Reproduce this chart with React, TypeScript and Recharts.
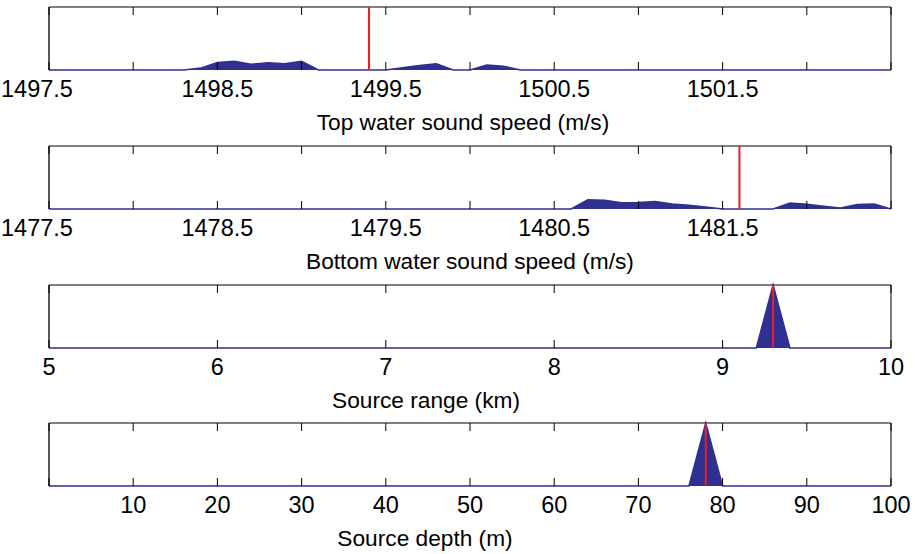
import React from 'react';
import { AreaChart, Area, XAxis, YAxis, ReferenceLine } from 'recharts';

// posterior densities (normalised so the peak of a sharp pdf = 1)
const topSpeed = [1497.5, 1498.3, 1498.4, 1498.5, 1498.6, 1498.7, 1498.8, 1498.9, 1499.0, 1499.1, 1499.5, 1499.6, 1499.7, 1499.8, 1499.9, 1500.0, 1500.1, 1500.2, 1500.3, 1502.5];
const topPdf = [0, 0, 0.03, 0.12, 0.14, 0.09, 0.115, 0.1, 0.14, 0, 0, 0.035, 0.07, 0.1, 0, 0, 0.08, 0.06, 0, 0];
const topTicks = [1497.5, 1498, 1498.5, 1499, 1499.5, 1500, 1500.5, 1501, 1501.5, 1502, 1502.5];
const topLabels = ['1497.5', '', '1498.5', '', '1499.5', '', '1500.5', '', '1501.5', '', ''];
const topTrue = 1499.4;

const bottomSpeed = [1477.5, 1480.6, 1480.7, 1480.8, 1480.9, 1481.0, 1481.1, 1481.2, 1481.3, 1481.4, 1481.5, 1481.8, 1481.9, 1482.0, 1482.1, 1482.2, 1482.3, 1482.4, 1482.5];
const bottomPdf = [0, 0, 0.145, 0.14, 0.1, 0.105, 0.12, 0.08, 0.06, 0.03, 0, 0, 0.095, 0.075, 0.045, 0.015, 0.07, 0.08, 0];
const bottomTicks = [1477.5, 1478, 1478.5, 1479, 1479.5, 1480, 1480.5, 1481, 1481.5, 1482, 1482.5];
const bottomLabels = ['1477.5', '', '1478.5', '', '1479.5', '', '1480.5', '', '1481.5', '', ''];
const bottomTrue = 1481.6;

const rangeKm = [5, 9.2, 9.3, 9.4, 10];
const rangePdf = [0, 0, 1, 0, 0];
const rangeTicks = [5, 6, 7, 8, 9, 10];
const rangeLabels = ['5', '6', '7', '8', '9', '10'];
const rangeTrue = 9.3;

const depthM = [0, 76, 78, 80, 100];
const depthPdf = [0, 0, 1, 0, 0];
const depthTicks = [0, 10, 20, 30, 40, 50, 60, 70, 80, 90, 100];
const depthLabels = ['', '10', '20', '30', '40', '50', '60', '70', '80', '90', '100'];
const depthTrue = 78;

const FONT = '"Liberation Sans", Arial, Helvetica, sans-serif';
const PLOT_H = 63;
const BLUE = '#2e3192';

const InTick = (props: any) => {
  const { x, y, payload, ticks, labels, firstShift } = props;
  const i = ticks.indexOf(payload.value);
  const tx = i === 0 ? x + firstShift : x;
  return (
    <g>
      <line x1={x} x2={x} y1={y} y2={y - 8} stroke="#000" strokeWidth={1} />
      <line x1={x} x2={x} y1={y - PLOT_H} y2={y - PLOT_H + 8} stroke="#000" strokeWidth={1} />
      <text x={tx} y={y + 27} textAnchor="middle" fontSize={23.5} fontFamily={FONT} fill="#000">
        {labels[i]}
      </text>
    </g>
  );
};

interface PanelProps {
  xs: number[];
  ys: number[];
  ticks: number[];
  labels: string[];
  truth: number;
  title: string;
  titleX: number;
  firstShift: number;
  top: number;
}

const Panel = ({ xs, ys, ticks, labels, truth, title, titleX, firstShift, top }: PanelProps) => {
  const data = xs.map((x, i) => ({ x, p: ys[i] }));
  const lo = ticks[0];
  const hi = ticks[ticks.length - 1];
  return (
    <div style={{ position: 'absolute', left: 0, top }}>
      <AreaChart width={915} height={138} data={data} margin={{ top: 7, right: 24, left: 49, bottom: 0 }}>
        <XAxis
          dataKey="x"
          type="number"
          domain={[lo, hi]}
          ticks={ticks}
          interval={0}
          allowDataOverflow
          height={68}
          tickSize={0}
          tickMargin={0}
          axisLine={false}
          tick={<InTick ticks={ticks} labels={labels} firstShift={firstShift} />}
          label={(p: any) => {
            const vb = p.viewBox;
            return (
              <text x={titleX} y={vb.y + 60} textAnchor="middle" fontSize={22.7} fontFamily={FONT} fill="#000">
                {title}
              </text>
            );
          }}
        />
        <YAxis hide domain={[0, 1]} />
        <ReferenceLine y={1} stroke="#000" strokeWidth={1} />
        <ReferenceLine x={lo} stroke="#000" strokeWidth={1.3} />
        <ReferenceLine x={hi} stroke="#000" strokeWidth={1} />
        <Area
          type="linear"
          dataKey="p"
          stroke={BLUE}
          strokeWidth={1.5}
          fill={BLUE}
          fillOpacity={1}
          isAnimationActive={false}
        />
        <ReferenceLine x={truth} stroke="#ee1d23" strokeWidth={2} />
      </AreaChart>
    </div>
  );
};

export default function App() {
  return (
    <div style={{ position: 'absolute', left: 0, top: 0, width: 915, height: 554, background: '#fff', overflow: 'hidden' }}>
      <Panel xs={topSpeed} ys={topPdf} ticks={topTicks} labels={topLabels} truth={topTrue} title="Top water sound speed (m/s)" titleX={463} firstShift={-12} top={0} />
      <Panel xs={bottomSpeed} ys={bottomPdf} ticks={bottomTicks} labels={bottomLabels} truth={bottomTrue} title="Bottom water sound speed (m/s)" titleX={470} firstShift={-12} top={139} />
      <Panel xs={rangeKm} ys={rangePdf} ticks={rangeTicks} labels={rangeLabels} truth={rangeTrue} title="Source range (km)" titleX={426} firstShift={0} top={278} />
      <Panel xs={depthM} ys={depthPdf} ticks={depthTicks} labels={depthLabels} truth={depthTrue} title="Source depth (m)" titleX={425} firstShift={0} top={416} />
    </div>
  );
}
